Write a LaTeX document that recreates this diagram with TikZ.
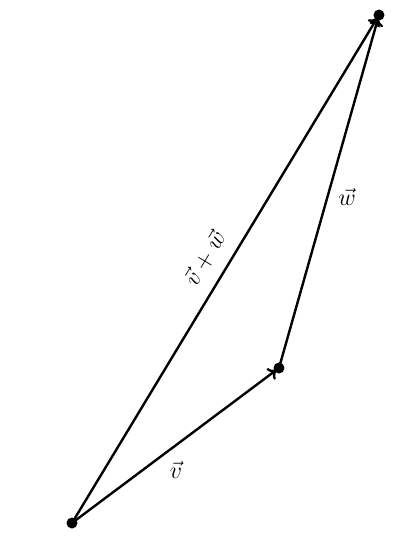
\documentclass[tikz,border=0pt]{standalone}
\usetikzlibrary{arrows.meta}
\begin{document}
\begin{tikzpicture}[x=0.5pt,y=-0.5pt,
  vec/.style={line width=1.2pt,-{To[length=4pt,width=7pt]},shorten >=1.5pt},
  pt/.style={circle,fill=black,inner sep=0pt,minimum size=5.5pt},
  lab/.style={font=\large}]
\useasboundingbox (0,0) rectangle (417,538);
\node[pt] (O) at (72,523) {};
\node[pt] (A) at (279,368) {};
\node[pt] (B) at (379,15) {};
\draw[vec] (O.center) -- (A.center);
\draw[vec] (A.center) -- (B.center);
\draw[vec] (O.center) -- (B.center);
\node[lab] (lv) at (176,470) {$\vec{v}$};
\node[lab] (lw) at (347,197) {$\vec{w}$};
\node[lab,rotate=58.9] (lvw) at (205,258) {$\vec{v}+\vec{w}$};
\end{tikzpicture}
\end{document}
